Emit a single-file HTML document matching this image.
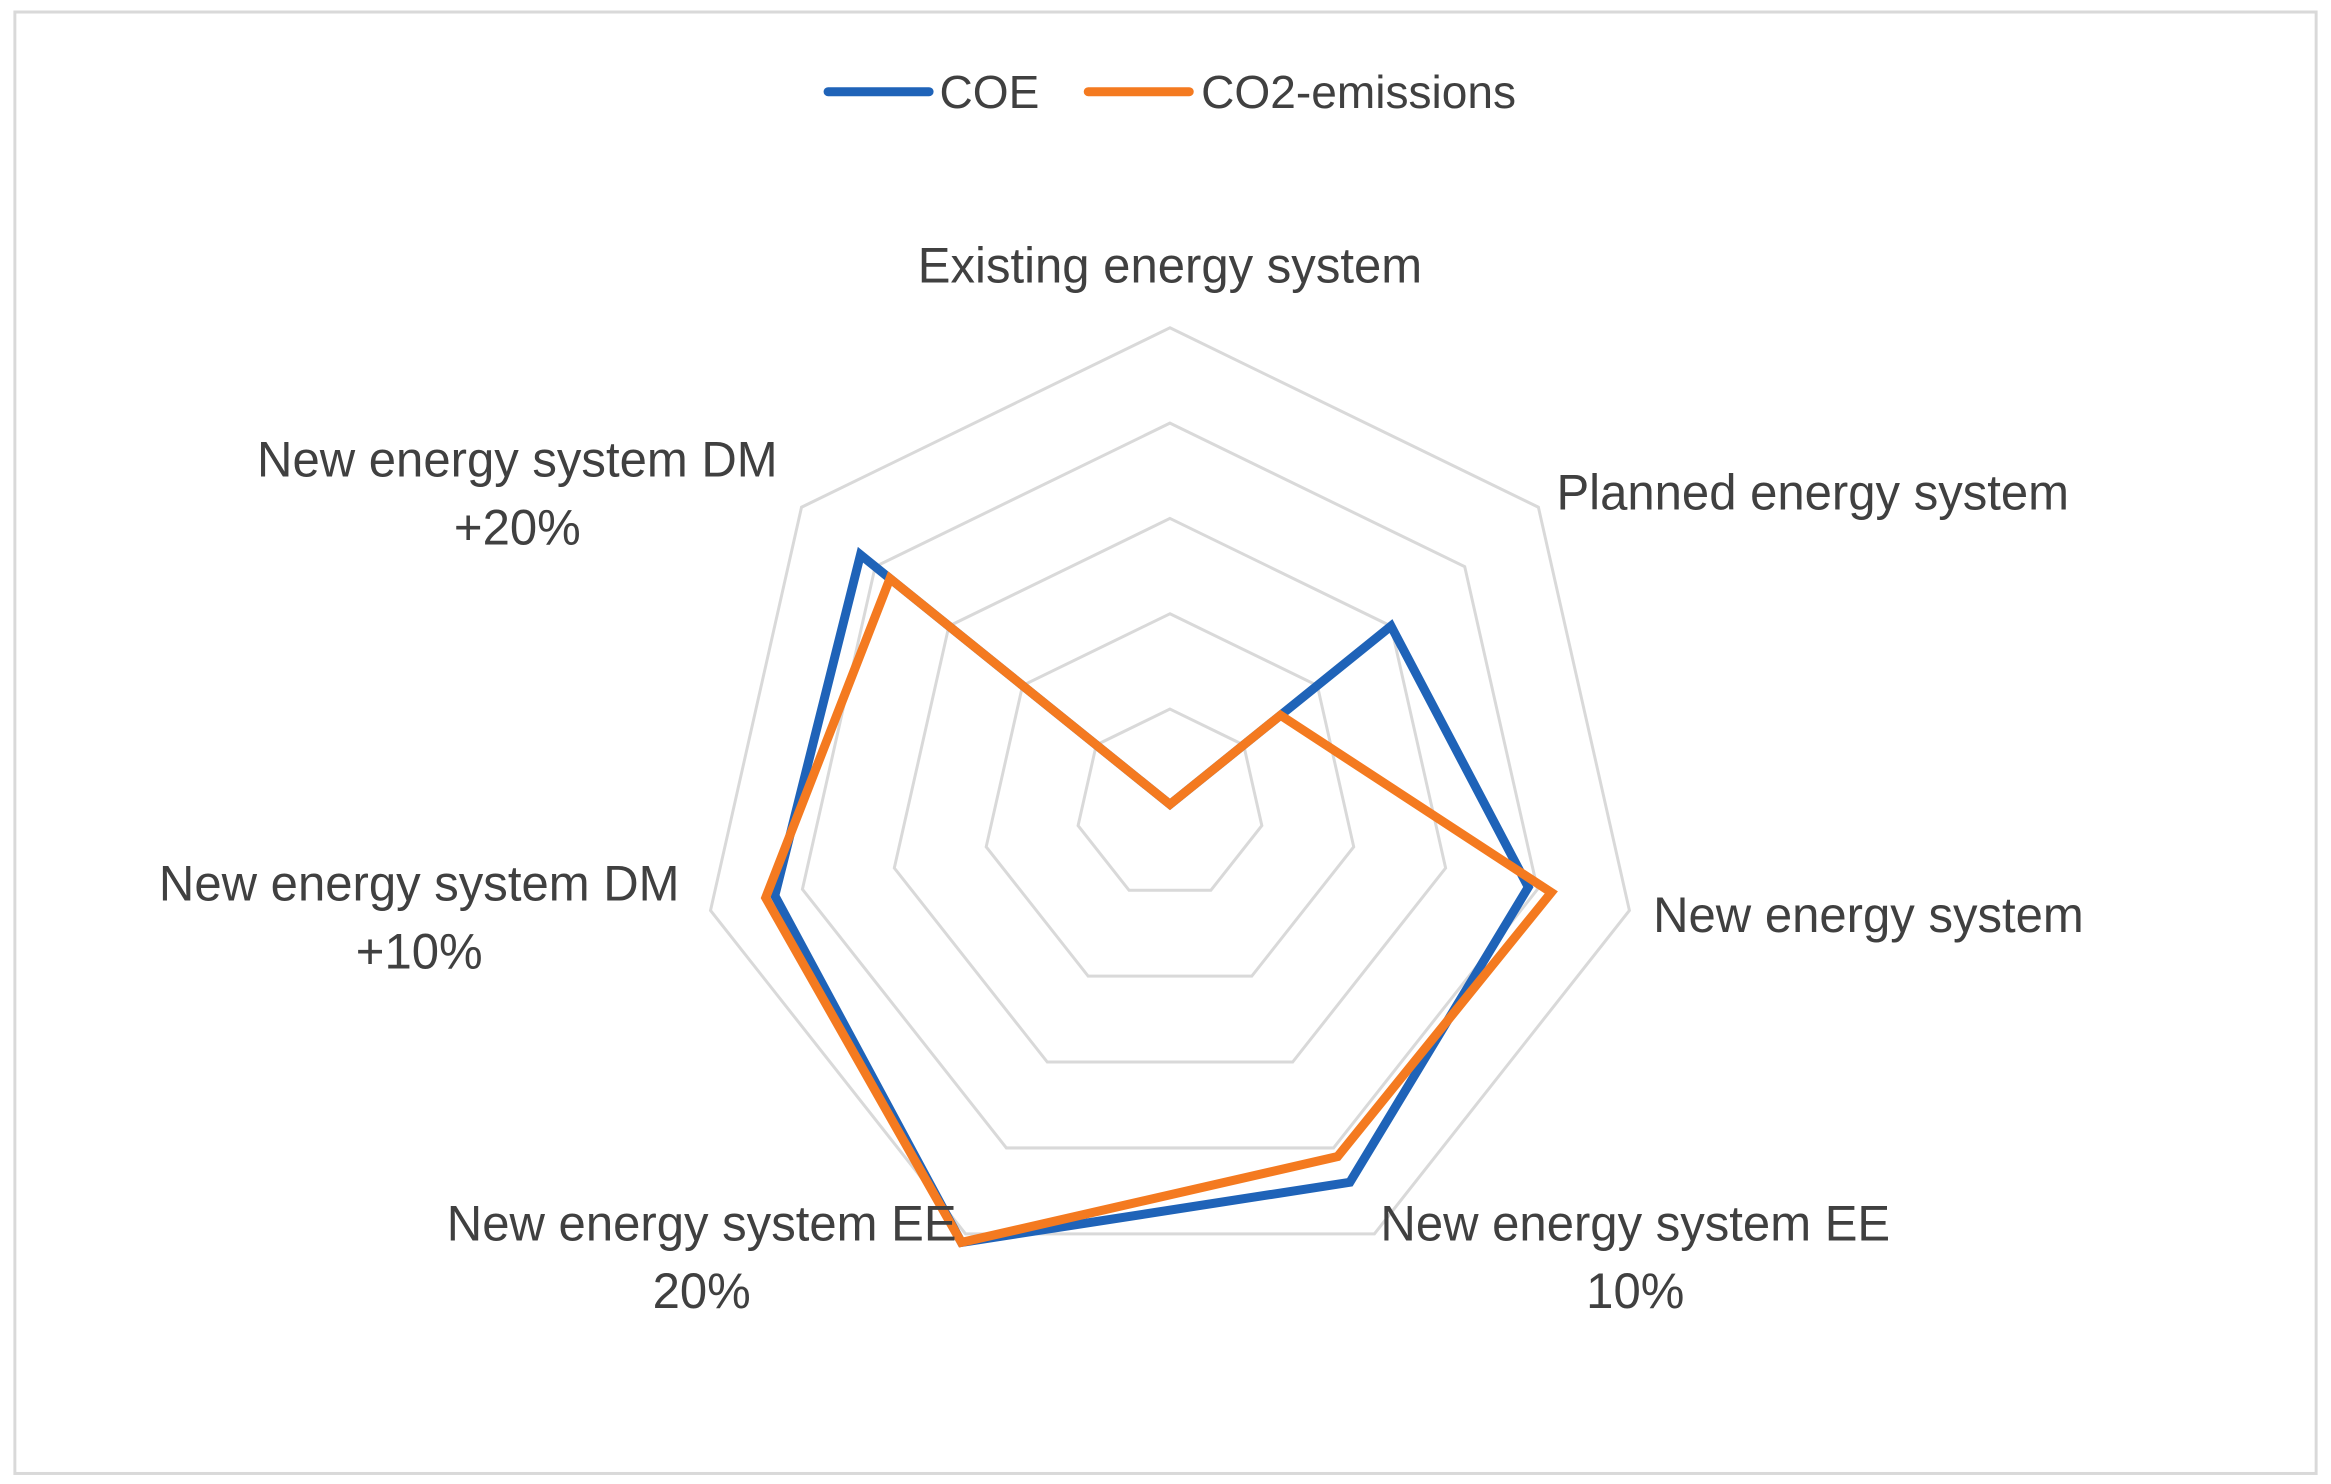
<!DOCTYPE html>
<html><head><meta charset="utf-8"><style>
html,body{margin:0;padding:0;background:#fff;}
svg{display:block;}
text{font-family:"Liberation Sans",sans-serif;fill:#404040;}
</style></head><body>
<svg id="chart" width="2331" height="1484" viewBox="0 0 1568 987" preserveAspectRatio="none" xmlns="http://www.w3.org/2000/svg">
<rect x="10" y="8" width="1548" height="972" fill="#fff" stroke="#d9d9d9" stroke-width="2"/>
<g>
 <line x1="557" y1="61" x2="625" y2="61" stroke="#1f63b8" stroke-width="6" stroke-linecap="round"/>
 <text x="632" y="72" font-size="31">COE</text>
 <line x1="732" y1="61" x2="800" y2="61" stroke="#f47a20" stroke-width="6" stroke-linecap="round"/>
 <text x="808" y="72" font-size="31">CO2-emissions</text>
</g>
<g id="grid"></g>
<g id="series"></g>
<g id="labels"></g>
</svg>
<script>
const categories=["Existing energy system","Planned energy system","New energy system","New energy system EE 10%","New energy system EE 20%","New energy system DM +10%","New energy system DM +20%"];
const coeValues=[0,3.0,3.9,4.4,5.1,4.3,4.2];
const co2Values=[0,1.5,4.15,4.1,5.1,4.4,3.8];
const maxValue=5;
const ringCount=5;
const NS="http://www.w3.org/2000/svg";
const cx=787,cy=535,R=317;
function ang(i){return -Math.PI/2+i*2*Math.PI/categories.length;}
function pt(i,v){const r=v/maxValue*R;return [cx+r*Math.cos(ang(i)),cy+r*Math.sin(ang(i))];}
const grid=document.getElementById('grid');
for(let k=1;k<=ringCount;k++){
 const p=document.createElementNS(NS,'polygon');
 p.setAttribute('points',categories.map((c,i)=>pt(i,k*maxValue/ringCount).join(',')).join(' '));
 p.setAttribute('fill','none');p.setAttribute('stroke','#d9d9d9');p.setAttribute('stroke-width','2');
 
 
 grid.appendChild(p);
}
function drawSeries(vals,color,name){
 const p=document.createElementNS(NS,'polygon');
 p.setAttribute('points',vals.map((v,i)=>pt(i,v).join(',')).join(' '));
 p.setAttribute('fill','none');p.setAttribute('stroke',color);p.setAttribute('stroke-width','6');p.setAttribute('stroke-linejoin','miter');
 
 
 document.getElementById('series').appendChild(p);
}
drawSeries(coeValues,'#1f63b8','series-coe');
drawSeries(co2Values,'#f47a20','series-co2');
const labelPos=[[787,188,'middle',["Existing energy system"]],[1047,339,'start',["Planned energy system"]],[1112,620,'start',["New energy system"]],[1100,825,'middle',["New energy system EE","10%"]],[472,825,'middle',["New energy system EE","20%"]],[282,599,'middle',["New energy system DM","+10%"]],[348,317,'middle',["New energy system DM","+20%"]]];
const lg=document.getElementById('labels');
labelPos.forEach((l,i)=>{
 const t=document.createElementNS(NS,'text');
 t.setAttribute('x',l[0]);t.setAttribute('y',l[1]);t.setAttribute('text-anchor',l[2]);t.setAttribute('font-size','33');
 
 
 l[3].forEach((s,j)=>{const ts=document.createElementNS(NS,'tspan');ts.setAttribute('x',l[0]);ts.setAttribute('dy',j?45:0);ts.textContent=s;t.appendChild(ts);});
 lg.appendChild(t);
});
</script>
</body></html>
